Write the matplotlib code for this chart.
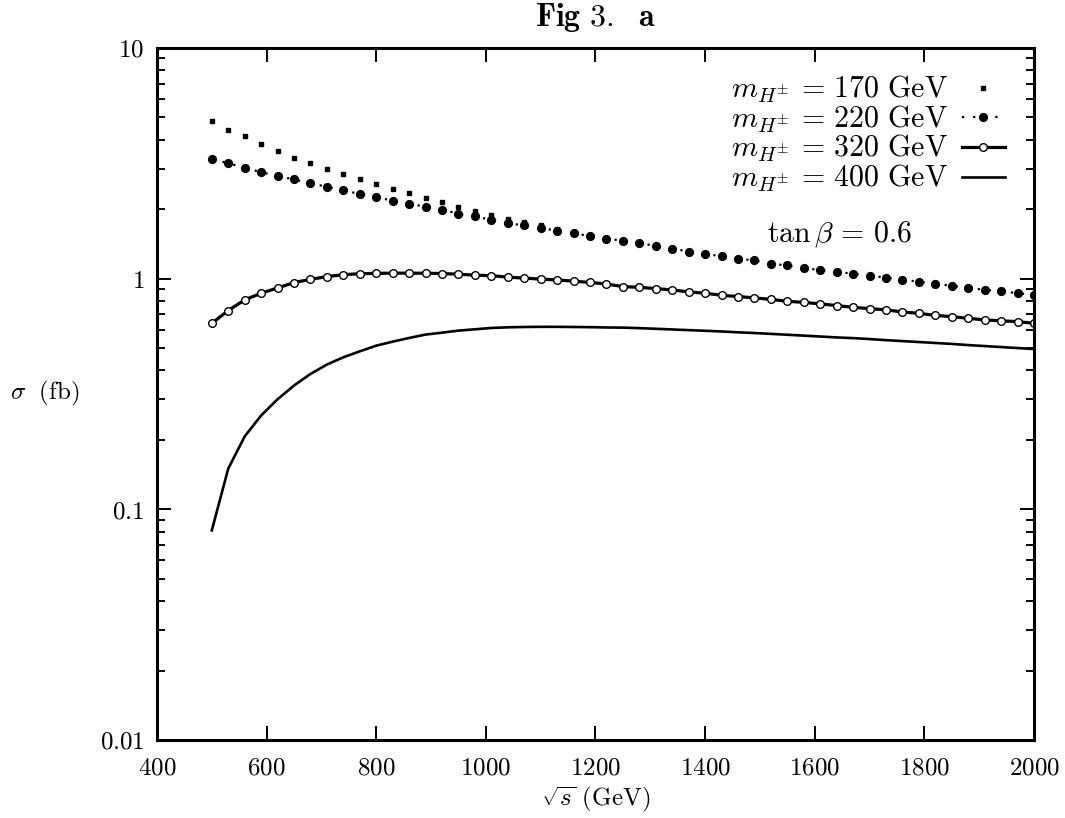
import numpy as np
import matplotlib
matplotlib.use("Agg")
import matplotlib.pyplot as plt
from matplotlib.ticker import FixedLocator, FuncFormatter, LogLocator, NullFormatter

plt.rcParams['mathtext.fontset'] = 'cm'
plt.rcParams['font.family'] = ['DejaVu Serif']

# ---- data ----
sqrt_s = np.arange(500, 2001, 30)  # GeV grid

sigma_170 = [4.84, 4.42, 4.14, 3.82, 3.56, 3.34, 3.16, 2.98, 2.83, 2.69,
             2.56, 2.44, 2.34, 2.23, 2.14, 2.05, 1.97, 1.89, 1.81, 1.76,
             1.70, 1.64, 1.59, 1.54, 1.50, 1.47, 1.43, 1.40, 1.36, 1.32,
             1.29, 1.26, 1.23, 1.21, 1.17, 1.15, 1.12, 1.10, 1.08, 1.06,
             1.04, 1.02, 1.00, 0.98, 0.96, 0.94, 0.92, 0.90, 0.89, 0.87, 0.86]

sigma_220 = [3.31, 3.16, 3.03, 2.89, 2.79, 2.69, 2.59, 2.50, 2.41, 2.33,
             2.25, 2.18, 2.11, 2.05, 1.99, 1.91, 1.86, 1.80, 1.74, 1.70,
             1.66, 1.61, 1.57, 1.53, 1.49, 1.46, 1.42, 1.39, 1.35, 1.31,
             1.28, 1.25, 1.22, 1.20, 1.16, 1.14, 1.11, 1.09, 1.07, 1.05,
             1.03, 1.01, 0.99, 0.97, 0.95, 0.93, 0.91, 0.895, 0.88, 0.865, 0.85]

sigma_320 = [0.640, 0.727, 0.809, 0.864, 0.911, 0.961, 0.993, 1.020, 1.040, 1.050,
             1.054, 1.056, 1.056, 1.055, 1.052, 1.045, 1.035, 1.030, 1.015, 1.005,
             0.995, 0.987, 0.975, 0.962, 0.948, 0.923, 0.917, 0.905, 0.893, 0.876,
             0.864, 0.847, 0.836, 0.825, 0.813, 0.797, 0.789, 0.777, 0.764, 0.751,
             0.741, 0.732, 0.717, 0.707, 0.693, 0.684, 0.673, 0.662, 0.656, 0.651, 0.640]

sigma_400 = [0.081, 0.150, 0.207, 0.255, 0.300, 0.344, 0.386, 0.424, 0.456, 0.484,
             0.512, 0.533, 0.553, 0.572, 0.583, 0.595, 0.603, 0.611, 0.615, 0.617,
             0.618, 0.618, 0.617, 0.616, 0.614, 0.613, 0.610, 0.606, 0.602, 0.598,
             0.594, 0.590, 0.585, 0.581, 0.576, 0.571, 0.566, 0.561, 0.556, 0.552,
             0.547, 0.541, 0.536, 0.531, 0.526, 0.521, 0.515, 0.510, 0.505, 0.500, 0.495]

labels = [r'$m_{H^{\pm}}\,=\,170\ \mathrm{GeV}$',
          r'$m_{H^{\pm}}\,=\,220\ \mathrm{GeV}$',
          r'$m_{H^{\pm}}\,=\,320\ \mathrm{GeV}$',
          r'$m_{H^{\pm}}\,=\,400\ \mathrm{GeV}$']

x_ticks = [400, 600, 800, 1000, 1200, 1400, 1600, 1800, 2000]
y_ticks = [0.01, 0.1, 1, 10]
y_ticklabels = ['0.01', '0.1', '1', '10']

# ---- figure ----
fig = plt.figure(figsize=(10.65, 8.18), dpi=100)
ax = fig.add_axes([0.1474, 0.0954, 0.8235, 0.8460])

fs = 18
fs_big = 21.5

h170, = ax.plot(sqrt_s, sigma_170, linestyle='none', marker='s', ms=2.4,
                color='black', label=labels[0])
h220, = ax.plot(sqrt_s, sigma_220, linestyle=(0, (1, 4)), lw=1.6, marker='o',
                ms=5.6, color='black', label=labels[1])
h320, = ax.plot(sqrt_s, sigma_320, linestyle='-', lw=2.3, marker='o', ms=5.5,
                mfc='white', mec='black', mew=1.0, color='black', label=labels[2])
h400, = ax.plot(sqrt_s, sigma_400, linestyle='-', lw=1.9, color='black',
                label=labels[3])

ax.set_yscale('log')
ax.set_xlim(400, 2000)
ax.set_ylim(0.01, 10)

ax.xaxis.set_major_locator(FixedLocator(x_ticks))
ax.xaxis.set_major_formatter(FuncFormatter(lambda v, p: r'$\mathrm{%d}$' % v))
ax.yaxis.set_major_locator(FixedLocator(y_ticks))
ax.yaxis.set_major_formatter(FuncFormatter(
    lambda v, p: r'$\mathrm{%s}$' % y_ticklabels[y_ticks.index(min(y_ticks, key=lambda t: abs(np.log10(t) - np.log10(v))))]))
ax.yaxis.set_minor_locator(LogLocator(base=10, subs=np.arange(2, 10), numticks=20))
ax.yaxis.set_minor_formatter(NullFormatter())

ax.tick_params(which='both', direction='in', top=True, right=True)
ax.tick_params(which='major', length=10, width=1.4, labelsize=fs)
ax.tick_params(which='minor', length=6, width=1.4)
ax.tick_params(axis='x', which='major', pad=12)
ax.tick_params(axis='y', which='major', pad=9)

for sp in ax.spines.values():
    sp.set_linewidth(2.2)

ax.set_title(r'$\mathbf{Fig\ 3.\ \ a}$', fontsize=23, pad=16)
ax.set_xlabel(r'$\sqrt{s}\ \mathrm{(GeV)}$', fontsize=fs, va='center')
ax.xaxis.set_label_coords(0.5, -0.085)
ax.set_ylabel(r'$\sigma\ \ \mathrm{(fb)}$', fontsize=fs, rotation=0, va='center', ha='center')
ax.yaxis.set_label_coords(-0.128, 0.5)

ax.text(0.779, 0.730, r'$\tan\beta\,=\,0.6$', transform=ax.transAxes,
        ha='center', va='center', fontsize=fs_big)

leg = ax.legend(handles=[h170, h220, h320, h400], loc='upper right',
                bbox_to_anchor=(0.967, 0.962), frameon=False, markerfirst=False,
                numpoints=1, handlelength=1.45, handletextpad=0.45,
                labelspacing=-0.05, borderpad=0, borderaxespad=0, fontsize=fs_big)

fig.savefig('out.png', dpi=100)
